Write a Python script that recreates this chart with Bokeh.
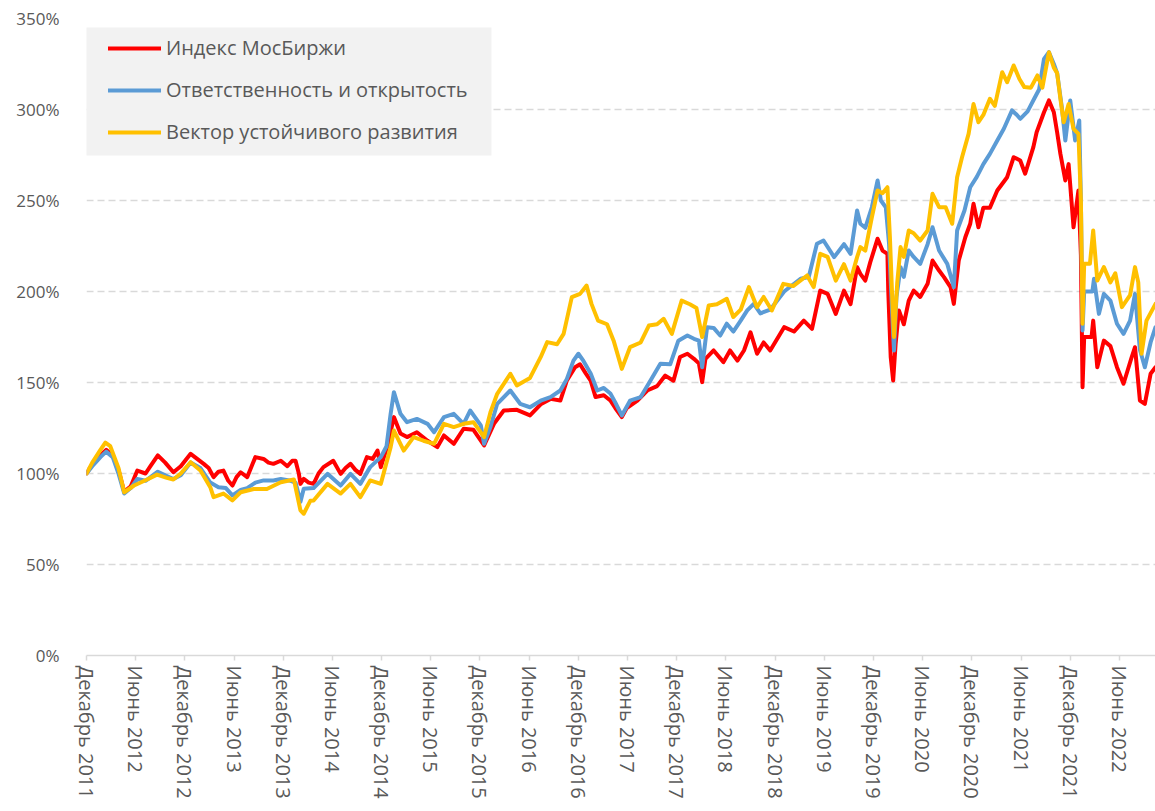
from bokeh.plotting import figure
from bokeh.models import Range1d, FixedTicker, PrintfTickFormatter, Legend, LegendItem, BoxAnnotation
from bokeh.embed import file_html
from bokeh.resources import INLINE

# x = months since December 2011, y = index level in %
tick_labels = ["Декабрь 2011", "Июнь 2012", "Декабрь 2012", "Июнь 2013", "Декабрь 2013", "Июнь 2014",
               "Декабрь 2014", "Июнь 2015", "Декабрь 2015", "Июнь 2016", "Декабрь 2016", "Июнь 2017",
               "Декабрь 2017", "Июнь 2018", "Декабрь 2018", "Июнь 2019", "Декабрь 2019", "Июнь 2020",
               "Декабрь 2020", "Июнь 2021", "Декабрь 2021", "Июнь 2022"]
tick_months = [0, 6, 12, 18, 24, 30, 36, 42, 48, 54, 60, 66, 72, 78, 84, 90, 96, 102, 108, 114, 120, 126]

series_names = ["Индекс МосБиржи", "Ответственность и открытость", "Вектор устойчивого развития"]

red_x = [0, 0.7, 1.7, 2.4, 3.2, 3.9, 4.6, 5.4, 6.2, 7.2, 7.8, 8.7, 9.6, 10.6, 11.5, 12.7, 13.5, 14.3, 14.9,
         15.5, 16.1, 16.7, 17.3, 17.8, 18.3, 18.8, 19.6, 20.6, 21.6, 22.2, 22.8, 23.7, 24.5, 25.1, 25.5,
         25.9, 26.1, 26.5, 27.1, 27.7, 28.3, 28.9, 30.1, 31.0, 31.6, 32.2, 32.8, 33.4, 34.2, 34.9, 35.5,
         35.9, 36.7, 37.5, 38.3, 39.1, 40.3, 41.6, 42.8, 43.6, 44.8, 46.0, 47.2, 48.5, 49.7, 50.9, 52.5,
         54.1, 55.4, 56.6, 57.8, 58.6, 59.6, 60.2, 60.9, 61.5, 62.1, 63.1, 63.9, 64.5, 65.3, 65.9, 67.2,
         68.4, 69.6, 70.6, 71.6, 72.4, 73.3, 74.1, 74.7, 75.1, 75.5, 76.5, 77.7, 78.5, 79.4, 80.2, 81.0,
         81.8, 82.6, 83.4, 85.1, 86.3, 87.5, 88.5, 89.5, 90.4, 91.4, 92.4, 93.2, 94.0, 94.4, 95.0, 95.6,
         96.5, 97.1, 97.7, 97.8, 98.1, 98.4, 98.7, 99.1, 99.7, 100.3, 100.9, 101.7, 102.6, 103.2, 104.0,
         104.6, 105.4, 105.8, 106.4, 107.2, 107.8, 108.2, 108.8, 109.4, 110.2, 111.1, 112.3, 113.1, 113.9,
         114.5, 115.5, 115.9, 116.8, 117.4, 118.0, 118.4, 118.8, 119.4, 119.8, 120.4, 121.0, 121.3, 121.5,
         121.7, 122.6, 122.8, 123.3, 124.1, 124.9, 125.7, 126.5, 127.5, 127.9, 128.5, 129.1, 129.8, 130.4]
red_y = [100, 105, 110, 113, 110, 102, 90, 93, 101.6, 100, 104, 110, 106, 100.7, 104, 110.8, 108, 105.3, 103,
         98, 101, 101.6, 96, 93.4, 98, 100.7, 98, 109, 108, 106, 105.3, 107, 104, 107, 107,
         100, 94.3, 97, 95, 94.3, 100, 103.5, 107, 99.8, 103, 105.3, 102, 99.8, 109, 108, 112.6,
         103.5, 115, 131, 122, 120, 122.7, 118, 114.5, 120.9, 116.3, 124.6, 124, 115.4, 127.3, 134.6, 135,
         131.9, 138, 141, 140.1, 151.1, 158.4, 160, 155, 151, 142, 143, 140.1, 136, 131, 136, 140,
         145.6, 148, 153.8, 151, 164, 165.8, 163, 160.5, 150.2, 163, 167.6, 161.2, 167.6, 162, 167.6, 177.6,
         165.8, 172, 167.6, 180.4, 178, 184, 179.5, 200.5, 198.7, 187.7, 200.5, 193, 213.4, 209.7, 206, 216,
         229, 222.5, 220.7, 200.5, 164, 151.1, 171.3, 189.6, 182, 195, 200.5, 197, 204.2, 217, 211.5,
         207.9, 202.4, 193.2, 217, 229.8, 237.2, 248.2, 235.3, 246, 246, 255.5, 262.8, 273.8, 272,
         264.7, 279.3, 287.5, 298.5, 305, 298.5, 287.5, 275.6, 261, 270, 235.3, 255.5, 220, 147.4,
         175, 175, 184, 158.4, 173, 170, 158.4, 149.3, 164, 169.4, 140.1, 138.3, 154.8, 158.4]

blue_x = [0, 0.7, 1.7, 2.4, 3.2, 3.9, 4.6, 5.4, 6.2, 7.2, 8.7, 9.6, 10.6, 11.5, 12.7, 13.9, 15.1, 16.1, 17.0,
          17.8, 18.8, 19.6, 20.6, 21.6, 22.8, 23.7, 24.9, 25.5, 26.1, 26.5, 27.7, 29.4, 31.0, 32.2, 33.4,
          34.6, 35.9, 36.6, 37.1, 37.5, 38.3, 39.1, 40.3, 41.6, 42.4, 43.6, 44.8, 46.0, 46.8, 48.1, 48.5,
          49.3, 50.1, 51.7, 52.9, 54.1, 55.4, 56.6, 57.8, 58.6, 59.4, 60.0, 60.6, 61.5, 62.3, 63.1, 63.9,
          64.5, 65.3, 66.3, 67.6, 68.8, 70.0, 71.2, 72.2, 73.3, 74.1, 74.7, 75.1, 75.7, 76.5, 77.3, 78.1,
          78.9, 79.8, 80.6, 81.4, 82.2, 83.4, 85.1, 87.1, 88.1, 89.1, 89.9, 91.2, 92.4, 93.2, 94.0, 94.4,
          95.0, 95.8, 96.5, 96.9, 97.5, 97.9, 98.3, 98.5, 98.8, 99.3, 99.7, 100.3, 100.9, 101.7, 102.6,
          103.2, 104.0, 105.0, 105.8, 106.2, 107.1, 107.8, 108.6, 109.4, 110.2, 111.1, 111.9, 112.9, 113.5,
          113.9, 114.8, 115.6, 116.2, 116.8, 117.4, 118.0, 118.4, 119.0, 119.4, 120.0, 120.6, 121.1, 121.3,
          121.5, 121.7, 122.7, 122.9, 123.5, 124.1, 124.9, 125.7, 126.5, 127.3, 127.9, 128.5, 129.1, 129.8,
          130.4]
blue_y = [100, 104, 109, 112, 109, 100, 89, 92, 97, 96, 101, 99, 97, 99, 106, 103, 95, 92.5, 92,
          88, 91, 92, 95, 96.2, 96.2, 97, 96, 95, 84.5, 91.6, 92, 99.8, 93.4, 99.8, 94.3,
          103.5, 109, 115, 132.8, 144.7, 132.8, 128.2, 130, 127.3, 122.7, 131, 132.8, 127.3, 134.6, 126.4, 116.3,
          126, 138.3, 145.6, 138.3, 136.4, 140, 142, 145.6, 152, 162, 165.8, 162, 155, 145.6, 147, 144,
          139, 131.9, 140, 142, 151.1, 160.3, 160, 173, 175.8, 174, 173, 158.4, 180.4, 180, 175.8, 182.3,
          178, 184, 189.6, 193.2, 188, 190, 200, 207, 208, 226.2, 228, 218.9, 226, 220.7, 244.5, 237.2,
          235, 246.3, 261, 250, 246.3, 226.2, 186, 167.6, 196.9, 213.4, 208, 222.5, 219, 215.2, 226,
          235.3, 222.5, 215.2, 202.4, 233.5, 244.5, 257.3, 263, 270, 275.6, 283, 289.4, 299.5, 297,
          294.9, 299, 305.9, 311, 327.8, 331.5, 325, 320, 300.4, 283, 305, 283, 294, 250,
          178.6, 200, 200, 207, 187.7, 198.7, 195, 182.3, 176.7, 184, 198.7, 168, 158.4, 172,
          180.4]

yellow_x = [0, 0.7, 1.7, 2.3, 2.9, 3.9, 4.6, 5.8, 7.4, 8.6, 9.8, 10.6, 11.5, 12.7, 13.9, 15.1, 15.5, 16.7,
            17.8, 18.8, 20.4, 22.0, 23.7, 25.3, 26.1, 26.5, 27.3, 27.7, 29.4, 31.0, 32.2, 33.4, 34.6, 35.9,
            37.1, 37.5, 38.7, 39.9, 41.1, 42.4, 43.6, 44.8, 46.0, 47.2, 48.5, 49.3, 50.1, 51.7, 52.5, 54.1,
            55.4, 56.2, 57.4, 58.2, 59.2, 60.2, 61.0, 61.6, 62.4, 63.5, 64.3, 65.3, 66.3, 67.6, 68.6, 69.6,
            70.4, 71.4, 72.6, 73.6, 74.4, 75.1, 75.9, 76.9, 78.1, 78.9, 79.8, 80.8, 81.8, 82.6, 83.6, 85.0,
            86.2, 87.9, 88.7, 89.5, 90.4, 91.4, 92.4, 93.2, 94.0, 94.4, 95.0, 95.8, 96.5, 97.1, 97.7, 98.0,
            98.3, 98.5, 98.9, 99.3, 99.7, 100.3, 100.9, 101.7, 102.6, 103.2, 104.0, 104.8, 105.6, 106.2,
            106.8, 107.6, 108.2, 108.8, 109.4, 110.2, 110.8, 111.7, 112.3, 113.1, 113.8, 114.4, 115.2, 116.0,
            116.6, 117.4, 118.0, 118.4, 118.8, 119.2, 119.8, 120.4, 121.0, 121.3, 121.5, 121.7, 122.4, 122.8,
            123.3, 124.1, 124.9, 125.5, 126.3, 127.3, 127.9, 128.3, 128.7, 129.3, 130.4]
yellow_y = [100, 106, 113, 117, 115, 103, 89.7, 93.4, 96.7, 99.4, 97.6, 96.7, 100, 106.2, 101.6, 92.5, 87, 89,
            85.2, 89.7, 91.5, 91.5, 95.2, 96.7, 79.7, 77.9, 85, 85.2, 94.3, 89, 94.3, 87, 96.2, 94.3,
            114.5, 123.6, 112.6, 120, 118, 116.3, 127.3, 125.5, 127.3, 128.2, 120, 134, 143.8, 154.8, 148.4, 152.5,
            163.9, 172.2, 171, 176.7, 196.9, 198.7, 203.3, 193.2, 184, 182, 173, 157.5, 169.4, 172, 181.3, 182,
            185, 176.7, 195, 193, 191, 175, 192.3, 193, 196, 186, 190, 202.4, 191.4, 197, 189.6, 204.2,
            203, 208.8, 202.4, 220.7, 219, 206, 215, 206, 218.9, 224.4, 222.5, 240.8, 255.5, 254, 257.3, 230,
            195, 175, 205, 224.4, 219, 233.5, 232, 228, 233.5, 253.7, 246.3, 246.3, 237.2, 262.8,
            273.8, 286.6, 303, 293, 297, 305.9, 302, 320.5, 315, 324.2, 316.8, 312.3, 312, 318.7,
            312, 331.5, 323, 320, 305.9, 293, 303, 289.4, 286.6, 250, 182.3, 215.2, 215.2, 233.5,
            206, 213.4, 205, 210, 191.4, 198, 213.4, 205, 165.8, 184, 193.2]

colors = ["#FF0000", "#5B9BD5", "#FFC000"]
TXT = "#595959"
GRID = "#D9D9D9"

p = figure(width=1155, height=811, output_backend="svg", toolbar_location=None,
           x_range=Range1d(0, 130.4), y_range=Range1d(0, 350),
           min_border_left=86, min_border_right=0, min_border_top=18, min_border_bottom=156)
p.outline_line_color = None
p.background_fill_color = "white"

# legend background
p.add_layout(BoxAnnotation(left=-0.4, right=49.4, bottom=274.7, top=345.1,
                           fill_color="#F2F2F2", fill_alpha=1.0, line_color=None))

renderers = []
for xs, ys, c in [(red_x, red_y, colors[0]), (blue_x, blue_y, colors[1]), (yellow_x, yellow_y, colors[2])]:
    r = p.line(xs, ys, line_color=c, line_width=4, line_join="round", line_cap="round")
    renderers.append(r)

# axes
p.yaxis.ticker = FixedTicker(ticks=[0, 50, 100, 150, 200, 250, 300, 350])
p.yaxis.formatter = PrintfTickFormatter(format="%d%%")
p.yaxis.axis_line_color = None
p.yaxis.major_tick_line_color = None
p.yaxis.minor_tick_line_color = None
p.yaxis.major_label_standoff = 21
p.yaxis.major_label_text_font = "Open Sans"
p.yaxis.major_label_text_font_size = "17px"
p.yaxis.major_label_text_color = TXT

p.xaxis.ticker = FixedTicker(ticks=tick_months)
p.xaxis.major_label_overrides = {m: lab for m, lab in zip(tick_months, tick_labels)}
p.xaxis.major_label_orientation = "vertical"
p.xaxis.axis_line_color = GRID
p.xaxis.axis_line_width = 1.5
p.xaxis.major_tick_line_color = GRID
p.xaxis.major_tick_line_width = 1.5
p.xaxis.major_tick_in = 0
p.xaxis.major_tick_out = 5
p.xaxis.minor_tick_line_color = None
p.xaxis.major_label_standoff = 5
p.xaxis.major_label_text_font = "Open Sans"
p.xaxis.major_label_text_font_size = "20px"
p.xaxis.major_label_text_color = TXT

p.xgrid.grid_line_color = None
p.ygrid.grid_line_color = GRID
p.ygrid.grid_line_width = 1.5
p.ygrid.grid_line_dash = "7 4"

legend = Legend(items=[LegendItem(label=n, renderers=[r]) for n, r in zip(series_names, renderers)],
                location=(22, 510), padding=12, spacing=15, margin=0,
                glyph_width=53, glyph_height=20, label_height=20, label_standoff=5,
                label_text_font="Open Sans", label_text_font_size="20px", label_text_color=TXT,
                background_fill_alpha=0, border_line_color=None)
p.add_layout(legend)

open("out.html", "w").write(file_html(p, INLINE))
